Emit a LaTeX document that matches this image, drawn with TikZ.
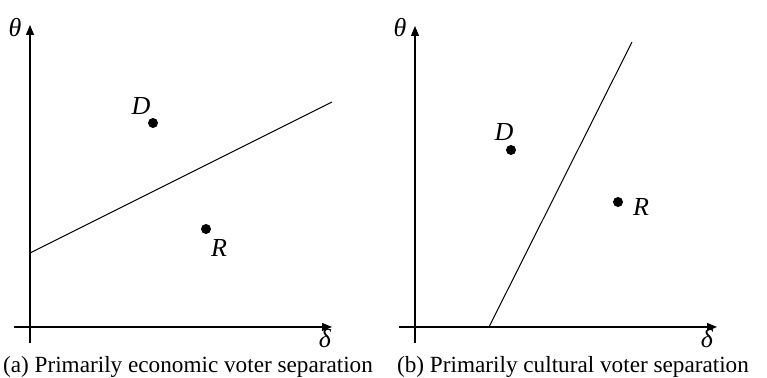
\documentclass[tikz,border=0pt]{standalone}
\usepackage{fontspec}
\setmainfont{Liberation Serif}
\usepackage{tikz}
\usetikzlibrary{arrows.meta}

\begin{document}
\begin{tikzpicture}[x=0.5pt,y=-0.5pt,
  eje/.style={line width=0.6pt,-{Triangle[length=5pt,width=4pt]}},
  punto/.style={fill=black},
  etiq/.style={font=\fontsize{13}{15}\selectfont\itshape,inner sep=0pt},
  pie/.style={font=\fontsize{11.6}{14}\selectfont,inner sep=0pt}]
  \useasboundingbox (0,0) rectangle (767,378);
  % (a) economic
  \coordinate (ya0) at (30,343); \coordinate (ya1) at (30,25);
  \coordinate (xa0) at (14,327); \coordinate (xa1) at (332,327);
  \draw[eje] (ya0) -- (ya1);
  \draw[eje] (xa0) -- (xa1);
  \node[etiq] (tha) at (15,28) {θ};
  \node[etiq] (dea) at (325,339) {δ};
  \coordinate (la0) at (30,253); \coordinate (la1) at (332,102);
  \draw[line width=0.5pt] (la0) -- (la1);
  \fill[punto] (153,123) circle (5) coordinate (Da);
  \fill[punto] (206,229) circle (5) coordinate (Ra);
  \node[etiq] (Dla) at (141,106) {D};
  \node[etiq] (Rla) at (219,248) {R};
  \node[pie] (capa) at (188,367) {(a) Primarily economic voter separation};
  % (b) cultural
  \coordinate (yb0) at (415,343); \coordinate (yb1) at (415,26);
  \coordinate (xb0) at (399,327); \coordinate (xb1) at (717,327);
  \draw[eje] (yb0) -- (yb1);
  \draw[eje] (xb0) -- (xb1);
  \node[etiq] (thb) at (400,28) {θ};
  \node[etiq] (deb) at (707,339) {δ};
  \coordinate (lb0) at (489,327); \coordinate (lb1) at (632,42);
  \draw[line width=0.5pt] (lb0) -- (lb1);
  \fill[punto] (511,150) circle (5) coordinate (Db);
  \fill[punto] (618,202) circle (5) coordinate (Rb);
  \node[etiq] (Dlb) at (504,132) {D};
  \node[etiq] (Rlb) at (641,207) {R};
  \node[pie] (capb) at (573,367) {(b) Primarily cultural voter separation};
\end{tikzpicture}
\end{document}
